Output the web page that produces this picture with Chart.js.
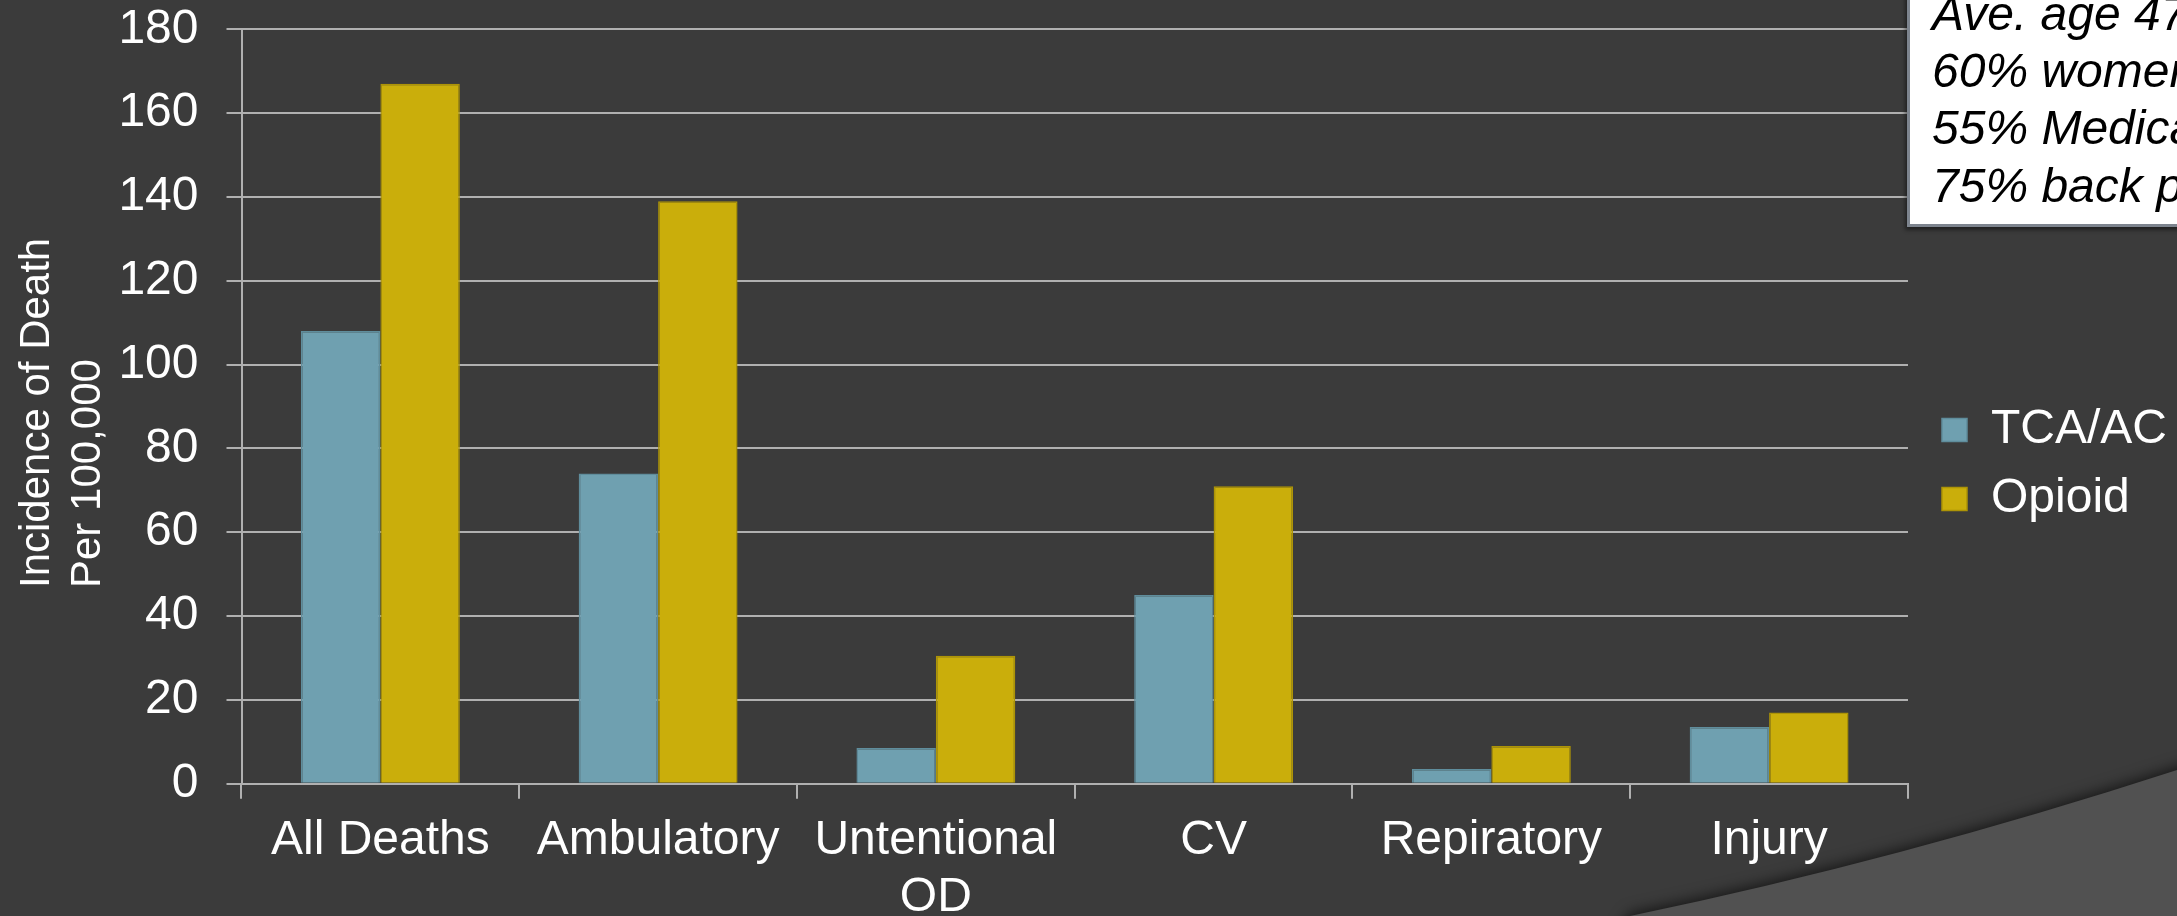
<!DOCTYPE html>
<html>
<head>
<meta charset="utf-8">
<script src="https://cdn.jsdelivr.net/npm/chart.js@4.4.1/dist/chart.umd.min.js"></script>
<style>
    html, body {
        margin: 0;
        padding: 0;
        background: #3b3b3b;
        overflow: hidden;
    }
    #wrap {
        position: relative;
        width: 2177px;
        height: 916px;
        overflow: hidden;
    }
    #info {
        position: absolute;
        left: 1907px;
        top: -40px;
        width: 420px;
        padding: 22px 0 10px 22px;
        background: #ffffff;
        border: 3px solid #7d848e;
        box-shadow: -2px 3px 4px rgba(0, 0, 0, 0.45);
        font-family: "Liberation Sans", Arial, sans-serif;
        font-style: italic;
        font-size: 48px;
        line-height: 57.2px;
        color: #000000;
        white-space: nowrap;
    }
</style>
</head>
<body>
<div id="wrap">
    <canvas id="chart" width="2177" height="916"></canvas>
    <div id="info"></div>
</div>
<script>
const FONT = '"Liberation Sans", Arial, sans-serif';
const GRID = '#b0b0b0';

const categories = ['All Deaths', 'Ambulatory', ['Untentional', 'OD'], 'CV', 'Repiratory', 'Injury'];
const tcaValues = [108, 74, 8.5, 45, 3.5, 13.5];
const opioidValues = [167, 139, 30.5, 71, 9, 17];
const seriesNames = ['TCA/AC', 'Opioid'];
const yMin = 0;
const yMax = 180;
const yStep = 20;
const axisTitle = ['Incidence of Death', 'Per 100,000'];
const infoLines = ['Ave. age 47', '60% women', '55% Medicaid', '75% back pain'];

// background + the lighter swoosh in the lower right corner
const backdrop = {
    id: 'backdrop',
    beforeDraw(chart) {
        let ctx = chart.ctx;
        ctx.save();
        ctx.fillStyle = '#3b3b3b';
        ctx.fillRect(0, 0, chart.width, chart.height);
        ctx.shadowColor = 'rgba(0, 0, 0, 0.6)';
        ctx.shadowBlur = 14;
        ctx.shadowOffsetY = -3;
        ctx.fillStyle = '#515151';
        ctx.beginPath();
        ctx.moveTo(1630, 916);
        ctx.quadraticCurveTo(1900, 860, 2177, 770);
        ctx.lineTo(2220, 755);
        ctx.lineTo(2220, 960);
        ctx.lineTo(1600, 960);
        ctx.closePath();
        ctx.fill();
        ctx.restore();
    }
};

// y axis title, two lines starting at the same point
const sideTitle = {
    id: 'sideTitle',
    afterDraw(chart) {
        let ctx = chart.ctx;
        ctx.save();
        ctx.translate(49, 588);
        ctx.rotate(-Math.PI / 2);
        ctx.font = '42px ' + FONT;
        ctx.fillStyle = '#ffffff';
        ctx.textAlign = 'left';
        ctx.textBaseline = 'alphabetic';
        for (let i = 0; i < axisTitle.length; i++) {
            ctx.fillText(axisTitle[i], 0, i * 50.7);
        }
        ctx.restore();
    }
};

function fillInfo() {
    let box = document.getElementById('info');
    box.innerHTML = infoLines.map(l => '<div>' + l + '</div>').join('');
}

function drawChart() {
    let ctx = document.getElementById('chart').getContext('2d');
    let chart = new Chart(ctx, {
        type: 'bar',
        data: {
            labels: categories,
            datasets: [
                {
                    label: seriesNames[0],
                    data: tcaValues,
                    backgroundColor: '#6fa0b0',
                    borderColor: '#5f8d9c',
                    borderWidth: 1.5,
                    categoryPercentage: 0.572,
                    barPercentage: 1.0
                },
                {
                    label: seriesNames[1],
                    data: opioidValues,
                    backgroundColor: '#caae0b',
                    borderColor: '#ad9406',
                    borderWidth: 1.5,
                    categoryPercentage: 0.572,
                    barPercentage: 1.0
                }
            ]
        },
        options: {
            responsive: false,
            animation: false,
            devicePixelRatio: 1,
            layout: {padding: {top: 13, right: 0, bottom: 0, left: 0}},
            plugins: {
                tooltip: {enabled: false},
                legend: {
                    position: 'right',
                    align: 'center',
                    labels: {
                        color: '#ffffff',
                        font: {family: FONT, size: 48},
                        boxWidth: 25,
                        boxHeight: 23,
                        padding: 21
                    }
                }
            },
            scales: {
                x: {
                    grid: {
                        offset: true,
                        drawOnChartArea: false,
                        color: GRID,
                        lineWidth: 2,
                        tickLength: 15
                    },
                    border: {display: true, color: GRID, width: 2},
                    ticks: {
                        color: '#ffffff',
                        font: {family: FONT, size: 48, lineHeight: 1.2},
                        padding: 13,
                        maxRotation: 0,
                        autoSkip: false
                    },
                    afterFit(scale) {
                        scale.height = 132.3;
                        scale.paddingLeft = 0;
                        scale.paddingRight = 0;
                    }
                },
                y: {
                    min: yMin,
                    max: yMax,
                    grid: {color: GRID, lineWidth: 2, tickLength: 15},
                    border: {display: true, color: GRID, width: 2},
                    ticks: {
                        stepSize: yStep,
                        color: '#ffffff',
                        font: {family: FONT, size: 48},
                        padding: 28
                    },
                    afterFit(scale) {
                        scale.width = 241.5;
                        scale.paddingTop = 29.3;
                        scale.paddingBottom = 0;
                    }
                },
                // empty right axis, only keeps a gap before the legend
                y2: {
                    position: 'right',
                    grid: {display: false},
                    border: {display: false},
                    ticks: {display: false},
                    afterFit(scale) {
                        scale.width = 13;
                        scale.paddingTop = 0;
                        scale.paddingBottom = 0;
                    }
                }
            }
        },
        plugins: [backdrop, sideTitle]
    });
}

fillInfo()
drawChart()
</script>
</body>
</html>
